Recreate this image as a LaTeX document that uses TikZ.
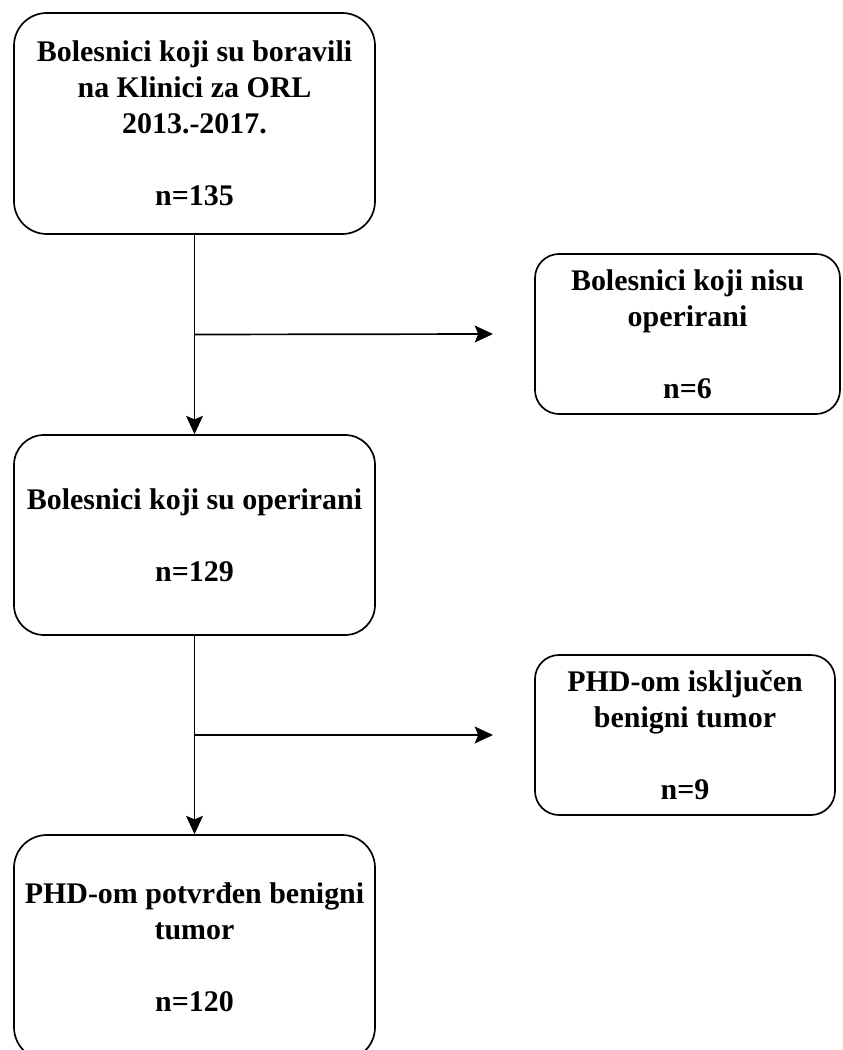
\documentclass[tikz,border=0pt]{standalone}
\usepackage{fontspec}
\setmainfont{Liberation Serif}
\usepackage{tikz}
\usetikzlibrary{positioning,arrows.meta,calc}

\begin{document}
\begin{tikzpicture}[
    flowbox/.style={draw, line width=1.2pt, align=center, inner sep=0pt,
      font=\fontsize{21.3}{25.6}\selectfont\bfseries},
    flowarrow/.style={line width=1.2pt, -{Stealth[length=13pt,width=12pt,inset=2.5pt]}}
  ]
  \useasboundingbox (0,0) rectangle (21.05,-26.25);

  % Boxes
  \node[flowbox, rounded corners=0.82cm, minimum width=9.025cm, minimum height=5.525cm]
    (boravili) at (4.8625,-3.0875)
    {Bolesnici koji su boravili\\ na Klinici za ORL\\ 2013.-2017.\\[25.6pt] n=135};
  \node[flowbox, rounded corners=0.6cm, minimum width=7.625cm, minimum height=4cm]
    (nisuop) at (17.1875,-8.35)
    {Bolesnici koji nisu\\ operirani\\[25.6pt] n=6};
  \node[flowbox, rounded corners=0.75cm, minimum width=9.025cm, minimum height=5cm]
    (operirani) at (4.8625,-13.375)
    {Bolesnici koji su operirani\\[25.6pt] n=129};
  \node[flowbox, rounded corners=0.6cm, minimum width=7.5cm, minimum height=4cm]
    (iskljucen) at (17.125,-18.375)
    {PHD-om isključen\\ benigni tumor\\[25.6pt] n=9};
  \node[flowbox, rounded corners=0.82cm, minimum width=9.025cm, minimum height=5.625cm]
    (potvrden) at (4.8625,-23.6875)
    {PHD-om potvrđen benigni\\ tumor\\[25.6pt] n=120};

  % Split points
  \coordinate (splitA) at ($(boravili.south)!0.5!(operirani.north)$);
  \coordinate (splitB) at ($(operirani.south)!0.5!(potvrden.north)$);
  \coordinate (endA) at (12.325,-8.35);
  \coordinate (endB) at (12.325,-18.375);

  % Arrows
  \draw[flowarrow] (boravili.south) -- (operirani.north);
  \draw[flowarrow] (splitA) -- (endA);
  \draw[flowarrow] (operirani.south) -- (potvrden.north);
  \draw[flowarrow] (splitB) -- (endB);

\end{tikzpicture}
\end{document}
